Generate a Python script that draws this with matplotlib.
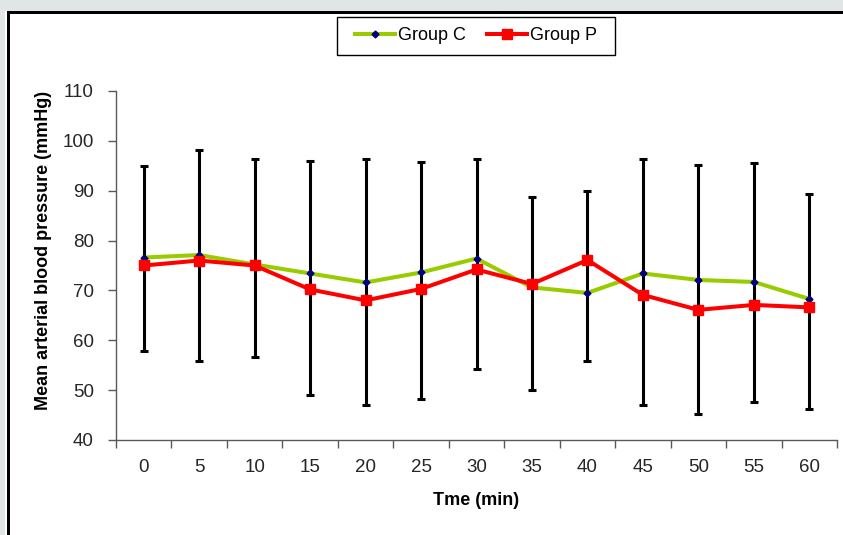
import matplotlib
matplotlib.use("Agg")
import matplotlib.pyplot as plt
from matplotlib.patches import Rectangle
import numpy as np

plt.rcParams['font.family'] = ['Liberation Sans', 'DejaVu Sans']

time_labels = ["0", "5", "10", "15", "20", "25", "30", "35", "40", "45", "50", "55", "60"]
group_c = [76.6, 77.1, 75.2, 73.4, 71.6, 73.6, 76.4, 70.6, 69.5, 73.4, 72.1, 71.7, 68.3]
group_p = [75.0, 76.0, 75.0, 70.2, 68.0, 70.3, 74.2, 71.3, 76.1, 69.1, 66.1, 67.1, 66.6]
err_high = [94.9, 98.1, 96.3, 95.9, 96.3, 95.8, 96.3, 88.8, 89.9, 96.3, 95.2, 95.6, 89.3]
err_low = [57.8, 55.8, 56.6, 49.0, 47.0, 48.3, 54.2, 50.0, 55.9, 47.0, 45.2, 47.7, 46.3]
y_ticks = [40, 50, 60, 70, 80, 90, 100, 110]

W, H = 843, 535
fig = plt.figure(figsize=(W / 100, H / 100), dpi=100)
fig.patch.set_facecolor('white')

# page frame
gray = '#e1e5e6'
fig.patches.append(Rectangle((0, 1 - 11 / H), 1, 11 / H, transform=fig.transFigure,
                             facecolor=gray, edgecolor='none', zorder=0))
fig.patches.append(Rectangle((0, 0), 5 / W, 1, transform=fig.transFigure,
                             facecolor=gray, edgecolor='none', zorder=0))
fig.patches.append(Rectangle((7 / W, 0), 3 / W, 1 - 11 / H, transform=fig.transFigure,
                             facecolor='black', edgecolor='none', zorder=1))
fig.patches.append(Rectangle((7 / W, 1 - 13.5 / H), 1, 2.5 / H, transform=fig.transFigure,
                             facecolor='black', edgecolor='none', zorder=1))
# legend box
fig.patches.append(Rectangle((337 / W, 1 - 55 / H), (615 - 337) / W, (55 - 17) / H,
                             transform=fig.transFigure, facecolor='white',
                             edgecolor='black', linewidth=1.0, zorder=1))

ax = fig.add_axes([116 / W, 1 - 440 / H, (837 - 116) / W, (440 - 91) / H])
ax.set_facecolor('none')

x = np.arange(len(time_labels))
gc = np.array(group_c)
yerr = [gc - np.array(err_low), np.array(err_high) - gc]
ax.errorbar(x, gc, yerr=yerr, fmt='none', ecolor='black', elinewidth=2.2,
            capsize=3.2, capthick=2.2, zorder=2)

ax.plot(x, group_c, color='#99cc00', lw=2.9, marker='D', markersize=3.5,
        markerfacecolor='#000080', markeredgecolor='#000080', label='Group C', zorder=3)
ax.plot(x, group_p, color='#ff0000', lw=2.9, marker='s', markersize=6.5,
        markerfacecolor='#ff0000', markeredgecolor='#ff0000', label='Group P', zorder=4)

ax.set_xlim(-0.5, len(time_labels) - 0.5)
ax.set_ylim(40, 110)
ax.set_yticks(y_ticks)
ax.set_xticks(x)
ax.set_xticklabels(time_labels)
ax.set_xticks(np.arange(len(time_labels) + 1) - 0.5, minor=True)

for s in ['top', 'right']:
    ax.spines[s].set_visible(False)
for s in ['left', 'bottom']:
    ax.spines[s].set_color('#595959')
    ax.spines[s].set_linewidth(1.0)

ax.tick_params(axis='x', which='major', length=0, pad=14, labelsize=13.5, labelcolor='#262626')
ax.tick_params(axis='x', which='minor', length=6, width=1.0, color='#595959', direction='out')
ax.tick_params(axis='y', which='major', length=6, width=1.0, color='#595959', direction='out',
               pad=10, labelsize=13.5, labelcolor='#262626')

ax.set_ylabel('Mean arterial blood pressure (mmHg)', fontsize=13, fontweight='bold',
              color='black', va='center', ha='center')
ax.yaxis.set_label_coords(-0.101, 0.544)
ax.set_xlabel('Tme (min)', fontsize=13, fontweight='bold', color='black',
              va='center', ha='center')
ax.xaxis.set_label_coords(0.5, -0.172)

leg = fig.legend(loc='center', bbox_to_anchor=(476 / W, 1 - 36 / H), ncol=2, fontsize=13,
                 frameon=False, handlelength=2.2, columnspacing=1.2,
                 handletextpad=0.15, borderpad=0.3)

fig.savefig('out.png', dpi=100)
